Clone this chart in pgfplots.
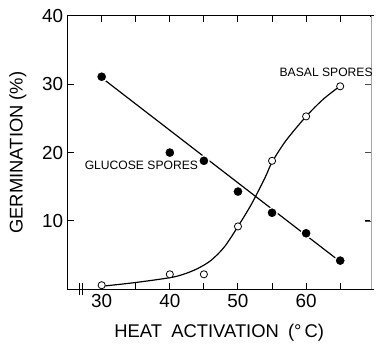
\documentclass[border=0pt]{standalone}
\usepackage{fontspec}
\setmainfont{Liberation Sans}
\usepackage{pgfplots}
\pgfplotsset{compat=1.18}
\begin{document}
\begin{tikzpicture}
\begin{axis}[
  scale only axis, width=305pt, height=275pt,
  xmin=25, xmax=69.5, ymin=0, ymax=40,
  clip=false,
  axis line style={line width=1pt},
  xtick={30,40,50,60}, minor xtick={35,45,55,65},
  ytick={10,20,30,40},
  xtick pos=both, ytick pos=both,
  xtick align=inside, ytick align=inside,
  major tick length=6pt, minor tick length=6pt,
  tick style={black, line width=1pt},
  minor tick style={black, line width=1pt},
  /pgf/number format/assume math mode=true,
  ticklabel style={font=\fontsize{19}{19}\selectfont},
  xticklabel style={yshift=-1pt},
  yticklabel style={xshift=-1pt},
  xlabel={HEAT\enspace ACTIVATION\enspace (\textdegree\,C)},
  ylabel={GERMINATION (\%)},
  label style={font=\fontsize{18.5}{18.5}\selectfont},
  xlabel style={at={(rel axis cs:0.5,0)}, anchor=center, yshift=-44pt},
  ylabel style={at={(rel axis cs:0,0.5)}, anchor=center, yshift=50pt},
]
% frame adjustments: faint right spine, top/bottom lines run to the edge
\draw[line width=1.6pt, white] (rel axis cs:1,0.003) -- (rel axis cs:1,0.997);
\draw[line width=0.6pt, black!35] (rel axis cs:1,0) -- (rel axis cs:1,1);
\draw[line width=1pt] (rel axis cs:0.99,1) -- (rel axis cs:1.01,1);
\draw[line width=1pt] (rel axis cs:0.99,0) -- (rel axis cs:1.01,0);
% inward tick marks
\pgfplotsinvokeforeach{30,35,40,45,50,55,60,65}{
  \draw[line width=1pt, black] (axis cs:#1,0) -- (axis cs:#1,0.85);
  \draw[line width=1pt, black] (axis cs:#1,40) -- (axis cs:#1,39.15);
}
\pgfplotsinvokeforeach{10,20,30}{
  \draw[line width=1pt, black] (axis cs:25,#1) -- (axis cs:25.85,#1);
  \draw[line width=0.8pt, black!70] (axis cs:69.5,#1) -- (axis cs:68.65,#1);
}
% axis break
\draw[line width=0.8pt] (axis cs:26.75,-0.9) -- (axis cs:26.75,0.9);
\draw[line width=0.8pt] (axis cs:27.2,-0.9) -- (axis cs:27.2,0.9);

% glucose regression line
\addplot[black, line width=1.2pt, no marks] coordinates {(30.2,30.8) (64.8,4.2)};
% basal curve
\addplot[black, line width=1.2pt, no marks, smooth, tension=0.5] coordinates {
(30.5,0.5) (35,1.0) (40,1.7) (42,2.2) (44,3.0) (46,4.2) (48,6.2) (50,9.2)
(52,12.5) (54,16.4) (55,18.6) (57,21.7) (60,25.3) (62.5,27.8) (64.8,29.6)};

% glucose spores (filled)
\addplot[only marks, mark=*, mark size=5.2pt,
  mark options={fill=black, draw=white, line width=1.3pt}] coordinates {
(30,31.1) (40,20.0) (45,18.8) (50,14.3) (55,11.2) (60,8.2) (65,4.2)};
% basal spores (open)
\addplot[only marks, mark=*, mark size=3.6pt,
  mark options={fill=white, draw=black, line width=0.8pt}] coordinates {
(30,0.6) (40,2.2) (45,2.2) (50,9.2) (55,18.8) (60,25.3) (65,29.7)};

\node[anchor=west, font=\fontsize{12.2}{12.2}\selectfont] at (axis cs:27,18.2) {GLUCOSE SPORES};
\node[anchor=west, font=\fontsize{12.2}{12.2}\selectfont] at (axis cs:55.6,31.7) {BASAL SPORES};

% fix bounding box to reference proportions
\path (rel axis cs:0,0) ++(-68pt,-54pt) coordinate (bbA);
\path (rel axis cs:0,0) ++(308pt,291pt) coordinate (bbB);
\path (bbA) rectangle (bbB);
\end{axis}
\end{tikzpicture}
\end{document}
